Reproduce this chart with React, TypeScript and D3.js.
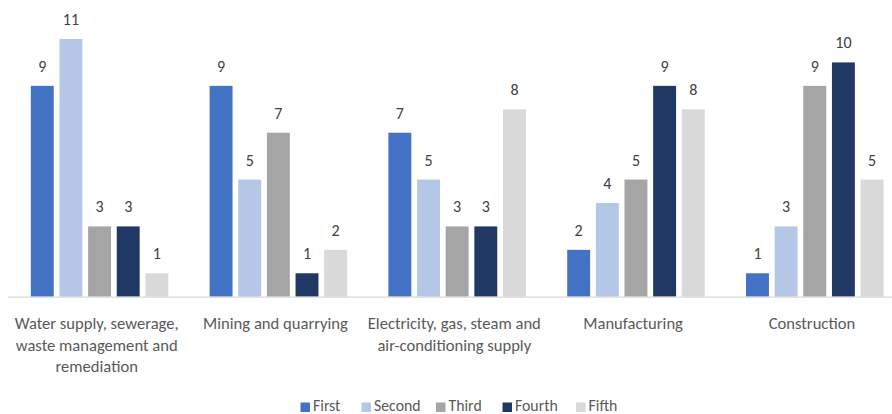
import React from "react";
import * as d3 from "d3";

const categories = [
  ["Water supply, sewerage,", "waste management and", "remediation"],
  ["Mining and quarrying"],
  ["Electricity, gas, steam and", "air-conditioning supply"],
  ["Manufacturing"],
  ["Construction"],
];
const seriesNames = ["First", "Second", "Third", "Fourth", "Fifth"];
const seriesColors = ["#4472C4", "#B4C7E7", "#A5A5A5", "#203864", "#D9D9D9"];
const first = [9, 9, 7, 2, 1];
const second = [11, 5, 5, 4, 3];
const third = [3, 7, 3, 5, 9];
const fourth = [3, 1, 3, 9, 10];
const fifth = [1, 2, 8, 8, 5];

const W = 892;
const H = 414;
const FONT = "Carlito, Calibri, Lato, 'Open Sans', sans-serif";

export default function App() {
  const series = [first, second, third, fourth, fifth];
  const x = d3
    .scaleBand<number>()
    .domain(categories.map((_, i) => i))
    .range([7.3, 901.3])
    .paddingInner(0)
    .paddingOuter(0);
  const y = d3.scaleLinear().domain([0, 11]).range([296.7, 39]);
  const inner = d3
    .scaleBand<number>()
    .domain(seriesNames.map((_, i) => i))
    .range([0, 137.5])
    .paddingInner(0.2)
    .paddingOuter(0);
  const groupW = 137.5 - inner.step() * 0.2;
  const legendX = [300.5, 361.5, 436, 502.5, 576];

  return (
    <svg
      width={W}
      height={H}
      style={{ position: "absolute", left: 0, top: 0, background: "#fff" }}
      fontFamily={FONT}
    >
      {series.map((vals, s) =>
        vals.map((v, c) => {
          const cx = (x(c) as number) + x.bandwidth() / 2;
          const bx = cx - groupW / 2 + (inner(s) as number);
          return (
            <g key={`${s}-${c}`}>
              <rect
                x={bx}
                y={y(v)}
                width={inner.bandwidth()}
                height={y(0) - y(v)}
                fill={seriesColors[s]}
              />
              <text
                x={bx + inner.bandwidth() / 2}
                y={y(v) - 14}
                textAnchor="middle"
                fontSize={16}
                fill="#404040"
              >
                {v}
              </text>
            </g>
          );
        })
      )}
      <line x1={8} x2={892} y1={y(0) + 0.5} y2={y(0) + 0.5} stroke="#D9D9D9" strokeWidth={1.2} />
      {categories.map((lines, c) => {
        const cx = (x(c) as number) + x.bandwidth() / 2;
        return (
          <text key={c} textAnchor="middle" fontSize={16.6} fill="#595959">
            {lines.map((l, i) => (
              <tspan key={i} x={cx} y={329 + i * 21.5}>
                {l}
              </tspan>
            ))}
          </text>
        );
      })}
      {seriesNames.map((n, s) => (
        <g key={n}>
          <rect x={legendX[s]} y={402.5} width={9.5} height={9.5} fill={seriesColors[s]} />
          <text x={legendX[s] + 12.5} y={411} fontSize={15.8} fill="#595959">
            {n}
          </text>
        </g>
      ))}
    </svg>
  );
}
